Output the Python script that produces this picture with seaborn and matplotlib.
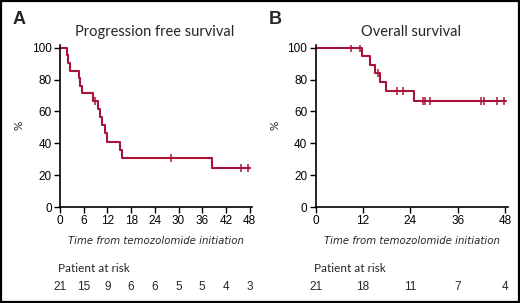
import matplotlib
matplotlib.use("Agg")
import matplotlib.pyplot as plt
import numpy as np
import pandas as pd
import seaborn as sns
from matplotlib import font_manager
from matplotlib.patches import Rectangle

# Progression free survival (months, %)
pfs_times = [0, 1.7, 2.1, 2.6, 4.7, 5.1, 5.5, 8.3, 9.5, 10.2, 10.6, 11.5, 12.0, 15.1, 15.7, 38.5]
pfs_surv = [100, 95.2, 90.5, 85.7, 81.0, 76.2, 71.4, 66.7, 61.5, 56.4, 51.3, 46.2, 41.0, 35.9, 30.8, 24.6]
pfs_end = 48.2
pfs_censor = [8.9, 28.0, 45.9, 47.6]
pfs_ticks = [0, 6, 12, 18, 24, 30, 36, 42, 48]
pfs_risk = [21, 15, 9, 6, 6, 5, 5, 4, 3]

# Overall survival
os_times = [0, 11.7, 13.8, 15.1, 16.2, 17.8, 25.0]
os_surv = [100, 94.7, 89.5, 84.2, 78.6, 73.0, 66.4]
os_end = 48.3
os_censor = [8.9, 11.2, 15.9, 20.6, 22.0, 27.3, 27.7, 29.0, 41.9, 42.5, 46.0, 47.7]
os_ticks = [0, 12, 24, 36, 48]
os_risk = [21, 18, 11, 7, 4]

RED = "#a8133a"

sns.set_style("ticks")
plt.rcParams["font.family"] = ["Liberation Sans", "DejaVu Sans"]

# condensed italic for the x label if some condensed face is installed
cond = [f for f in font_manager.fontManager.ttflist
        if f.stretch in ("condensed", "semi-condensed", "extra-condensed")
        or "Narrow" in f.name or "Condensed" in f.name]
if cond:
    xl_font = dict(family=[cond[0].name, "DejaVu Sans"], stretch=cond[0].stretch, size=8.1)
else:
    xl_font = dict(family=["Liberation Sans", "DejaVu Sans"], size=8.1)

fig = plt.figure(figsize=(5.2, 3.03), dpi=100)


def draw_panel(rect, letter, title, times, surv, end, censor, ticks, risk, title_x, letter_x):
    ax = fig.add_axes(rect)
    df = pd.DataFrame({"t": times + [end], "s": surv + [surv[-1]]})
    sns.lineplot(data=df, x="t", y="s", ax=ax, color=RED, lw=1.5,
                 drawstyle="steps-post", estimator=None)
    idx = np.searchsorted(times, censor, side="right") - 1
    cy = np.array(surv)[idx]
    ax.plot(censor, cy, ls="none", marker="|", ms=6, mew=1.1, color=RED)

    ax.set_xlim(0, 48.6)
    ax.set_ylim(0, 102)
    ax.set_yticks([0, 20, 40, 60, 80, 100])
    ax.set_xticks(ticks)
    ax.tick_params(labelsize=8.5, length=4, width=1, colors="black", pad=2)
    for s in ["left", "bottom"]:
        ax.spines[s].set_linewidth(1.2)
        ax.spines[s].set_color("black")
    sns.despine(ax=ax)
    ax.set_ylabel("%", fontsize=8.5, labelpad=5, family=["Lato", "DejaVu Sans"])
    ax.set_xlabel("Time from temozolomide initiation", style="italic",
                  labelpad=6, **xl_font)

    fig.text(rect[0] - 0.003, 0.113, "Patient at risk", fontsize=8.5,
             family=["Lato", "DejaVu Sans"], va="center", ha="left")
    for t, r in zip(ticks, risk):
        ax.annotate(str(r), xy=(t, 0), xycoords=("data", "figure fraction"),
                    xytext=(0, 11.5), textcoords="offset points",
                    ha="center", va="center", fontsize=8.5)
    fig.text(title_x, 0.895, title, fontsize=10.5, ha="center", va="center",
             family=["Lato", "DejaVu Sans"])
    fig.text(letter_x, 0.935, letter, fontsize=13, weight="bold",
             va="center", ha="left", family=["Liberation Sans", "DejaVu Sans"])
    return ax


draw_panel([0.1154, 0.3168, 0.3692, 0.536], "A", "Progression free survival",
           pfs_times, pfs_surv, pfs_end, pfs_censor, pfs_ticks, pfs_risk, 0.298, 0.024)
draw_panel([0.607, 0.3168, 0.3692, 0.536], "B", "Overall survival",
           os_times, os_surv, os_end, os_censor, os_ticks, os_risk, 0.79, 0.517)

fig.patches.append(Rectangle((0.002, 0.003), 0.996, 0.994, transform=fig.transFigure,
                             fill=False, ec="black", lw=1.6))

fig.savefig("out.png", dpi=100)
